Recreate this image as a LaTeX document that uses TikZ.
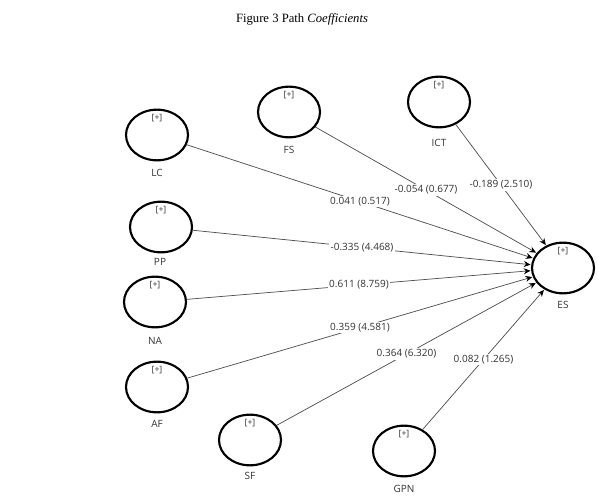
\documentclass[tikz,border=0pt]{standalone}
\usepackage{fontspec}
\setmainfont{Liberation Serif}
\newfontfamily\uifont{Open Sans}
\usetikzlibrary{shapes.geometric,arrows.meta}
\definecolor{txt}{HTML}{333333}
\definecolor{ln}{HTML}{505050}
\tikzset{
  lv/.style={ellipse, draw=black, line width=1.6pt, minimum width=46.5pt, minimum height=38pt, inner sep=0pt},
  plus/.style={font=\uifont\fontsize{6.5}{7}\selectfont, text=txt, inner sep=0pt},
  nm/.style={font=\uifont\fontsize{7.5}{8}\selectfont, text=txt, inner sep=0pt},
  path/.style={draw=ln, line width=0.55pt, -{Stealth[length=5pt,width=4.5pt,color=black]}, shorten >=0.5pt},
  coef/.style={font=\uifont\fontsize{7.5}{8}\selectfont, text=txt, fill=white, inner sep=1pt, pos=0.5}
}
\begin{document}
\begin{tikzpicture}[x=0.75pt,y=-0.75pt]
\useasboundingbox (0,0) rectangle (606,498);
\node[font=\fontsize{9.5}{11}\selectfont] (title) at (302,19) {Figure 3 Path \textit{Coefficients}};
% latent variables
\node[lv] (LC) at (157,135) {};
\node[lv] (FS) at (289,112) {};
\node[lv] (ICT) at (439,102) {};
\node[lv] (PP) at (161,227) {};
\node[lv] (NA) at (155,302) {};
\node[lv] (AF) at (157,387) {};
\node[lv] (SF) at (250,440) {};
\node[lv] (GPN) at (404,451) {};
\node[lv] (ES) at (563,268) {};
% [+] markers
\foreach \n in {LC,FS,ICT,PP,NA,AF,SF,GPN,ES}{
  \node[plus] (\n plus) at ([yshift=12.5pt]\n.center) {[+]};
}
% names
\node[nm] (LClab) at (157,173) {LC};
\node[nm] (FSlab) at (289,150) {FS};
\node[nm] (ICTlab) at (439,143) {ICT};
\node[nm] (PPlab) at (160,262) {PP};
\node[nm] (NAlab) at (155,341) {NA};
\node[nm] (AFlab) at (157,424) {AF};
\node[nm] (SFlab) at (250,476) {SF};
\node[nm] (GPNlab) at (404,489) {GPN};
\node[nm] (ESlab) at (563,305) {ES};
% paths
\draw[path] (LC) -- node[coef] {0.041 (0.517)} (ES);
\draw[path] (FS) -- node[coef] {-0.054 (0.677)} (ES);
\draw[path] (ICT) -- node[coef] {-0.189 (2.510)} (ES);
\draw[path] (PP) -- node[coef] {-0.335 (4.468)} (ES);
\draw[path] (NA) -- node[coef] {0.611 (8.759)} (ES);
\draw[path] (AF) -- node[coef] {0.359 (4.581)} (ES);
\draw[path] (SF) -- node[coef] {0.364 (6.320)} (ES);
\draw[path] (GPN) -- node[coef] {0.082 (1.265)} (ES);
\end{tikzpicture}
\end{document}
